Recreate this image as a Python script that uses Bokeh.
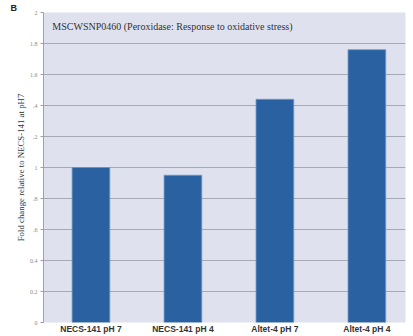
from bokeh.plotting import figure
from bokeh.models import Label, FixedTicker, Range1d
from bokeh.embed import file_html
from bokeh.resources import INLINE

# Fold change of MSCWSNP0460 expression per strain / pH condition
categories = ["NECS-141 pH 7", "NECS-141 pH 4", "Altet-4 pH 7", "Altet-4 pH 4"]
fold_change = [1.0, 0.95, 1.44, 1.76]
y_ticks = [0, 0.2, 0.4, 0.6, 0.8, 1.0, 1.2, 1.4, 1.6, 1.8, 2.0]
y_tick_labels = ["0", "0.2", "0.4", ".6", ".8", "1", ".2", ".4", "1.6", "1.8", "2"]

positions = list(range(1, len(categories) + 1))

p = figure(width=413, height=336, output_backend="svg", toolbar_location=None,
           x_range=Range1d(0.484, 4.42), y_range=Range1d(0, 2.0),
           min_border_left=43, min_border_right=8, min_border_top=0, min_border_bottom=14,
           title="B")

p.background_fill_color = "#dfe2ee"
p.border_fill_color = "white"
p.outline_line_color = None

# panel letter
p.title.align = "left"
p.title.offset = -33
p.title.standoff = 0
p.title.text_line_height = 0.75
p.title.text_font = "Liberation Sans"
p.title.text_font_style = "bold"
p.title.text_font_size = "9px"
p.title.text_color = "#222222"

p.vbar(x=positions, top=fold_change, width=0.41, bottom=0,
       fill_color="#2a61a0", line_color="#6d98c8", line_width=0.8)

# axes
p.xaxis.ticker = FixedTicker(ticks=positions)
p.xaxis.major_label_overrides = {i: c for i, c in zip(positions, categories)}
p.xaxis.major_label_text_font = "Liberation Sans"
p.xaxis.major_label_text_font_style = "bold"
p.xaxis.major_label_text_font_size = "8.5px"
p.xaxis.major_label_text_color = "#333333"
p.xaxis.major_label_standoff = 1
p.xaxis.major_tick_in = 0
p.xaxis.major_tick_out = 0
p.xaxis.minor_tick_in = 0
p.xaxis.minor_tick_out = 0
p.xaxis.major_tick_line_color = None
p.xaxis.minor_tick_line_color = None
p.xaxis.axis_line_color = None

p.yaxis.ticker = FixedTicker(ticks=y_ticks)
p.yaxis.major_label_overrides = {t: l for t, l in zip(y_ticks, y_tick_labels)}
p.yaxis.major_label_text_font = "Liberation Serif"
p.yaxis.major_label_text_font_size = "6px"
p.yaxis.major_label_text_color = "#8a8a8a"
p.yaxis.major_label_standoff = 3
p.yaxis.major_tick_in = 0
p.yaxis.major_tick_out = 3
p.yaxis.major_tick_line_color = "#9a9da6"
p.yaxis.minor_tick_line_color = None
p.yaxis.axis_line_color = "#a0a3ad"
p.yaxis.axis_label = "Fold change relative to NECS-141 at pH7"
p.yaxis.axis_label_text_font = "Liberation Serif"
p.yaxis.axis_label_text_font_style = "normal"
p.yaxis.axis_label_text_font_size = "8.8px"
p.yaxis.axis_label_text_color = "#333333"
p.yaxis.axis_label_standoff = 1

p.xgrid.grid_line_color = None
p.ygrid.grid_line_color = "#a6a9b3"
p.ygrid.grid_line_width = 1

p.add_layout(Label(x=0.58, y=1.91, text="MSCWSNP0460 (Peroxidase: Response to oxidative stress)",
                   text_font="Liberation Serif", text_font_size="10px", text_color="#333333",
                   text_baseline="middle"))

open("out.html", "w").write(file_html(p, INLINE))
